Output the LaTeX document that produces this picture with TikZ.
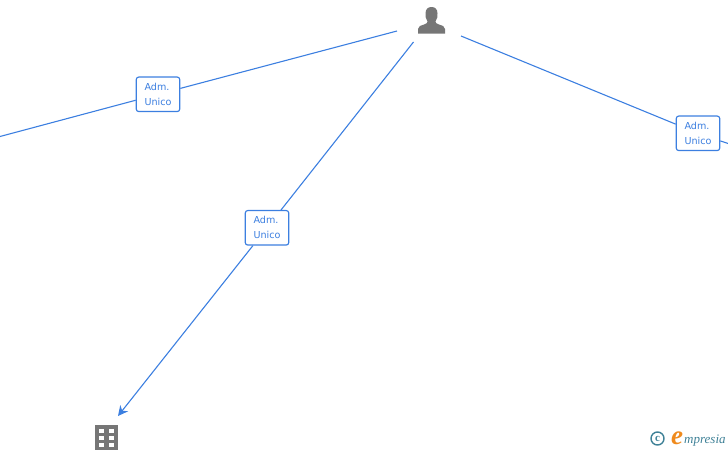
\documentclass[tikz,border=0pt]{standalone}
\usepackage{fontspec}
\setmainfont{DejaVu Sans}
\newfontfamily\logofont{Liberation Serif}
\usetikzlibrary{arrows.meta}
\definecolor{linkblue}{HTML}{3C7FE0}
\definecolor{icongray}{HTML}{767676}
\definecolor{logoteal}{HTML}{3F8197}
\definecolor{logoorange}{HTML}{EF8A1D}
\tikzset{
  link/.style={draw=linkblue,line width=1.1pt},
  rolebox/.style={draw=linkblue,line width=1.15pt,fill=white,rounded corners=2.5pt,
    minimum width=43.5pt,minimum height=34.5pt,inner sep=0pt,align=left,
    text=linkblue,font=\fontsize{9.6pt}{15pt}\selectfont},
  icon/.style={fill=icongray,draw=none}
}
\begin{document}
\begin{tikzpicture}[x=1pt,y=-1pt]
\useasboundingbox (0,0) rectangle (728,450);
% free ends
\coordinate (pl) at (397,31);
\coordinate (pm) at (413.5,42);
\coordinate (pr) at (461,36);
\coordinate (el) at (0,136.5);
\coordinate (er) at (728,143.5);
\coordinate (tip) at (118,416);
% anchors for icons
\node[minimum size=0pt,inner sep=0pt] (person) at (431,20) {};
\node[minimum size=0pt,inner sep=0pt] (building) at (106.5,437) {};
% labels
\node[rolebox] (a) at (158,94.3) {Adm.\\Unico};
\node[rolebox] (b) at (267,227.8) {Adm.\\Unico};
\node[rolebox] (c) at (698,133.3) {Adm.\\Unico};
% connectors
\draw[link] (el) -- (a);
\draw[link] (a) -- (pl);
\draw[link] (pm) -- (b);
\draw[link,-{Stealth[length=10pt,width=10pt]}] (b) -- (tip);
\draw[link] (pr) -- (c);
\draw[link] (c) -- (er);
% person icon
\fill[icon] (418,33.7) -- (418,29) .. controls (418,26) and (421,25.5) .. (424,24.5)
  .. controls (426.5,23.5) and (427.5,23) .. (427.5,21.5)
  .. controls (425.5,19) and (425.5,16) .. (425.5,13.5)
  .. controls (425.5,9) and (428,7) .. (431.5,7)
  .. controls (435,7) and (437.5,9) .. (437.5,13.5)
  .. controls (437.5,16) and (437.5,19) .. (435.5,21.5)
  .. controls (435.5,23) and (436.5,23.5) .. (439,24.5)
  .. controls (442,25.5) and (445,26) .. (445,29) -- (445,33.7) -- cycle;
% building icon
\fill[icon] (95,425) rectangle (118,450);
\foreach \wx in {98.5,108.5}{
  \foreach \wy in {429.2,436.2,443,449.5}{
    \fill[white] (\wx,\wy) rectangle ++(5,4);
  }
}
% logo
\node[circle,draw=logoteal,line width=1.4pt,minimum size=13pt,inner sep=0pt,
  text=logoteal,font=\logofont\bfseries\fontsize{11pt}{11pt}\selectfont] (copy) at (657.5,438.5) {c};
\node[anchor=base west,inner sep=0pt,text=logoorange,
  font=\logofont\itshape\bfseries\fontsize{27pt}{27pt}\selectfont] (logoe) at (671,444) {e};
\node[anchor=base west,inner sep=0pt,text=logoteal,
  font=\logofont\itshape\fontsize{13pt}{13pt}\selectfont] (logot) at (684,443) {mpresia};
\end{tikzpicture}
\end{document}
